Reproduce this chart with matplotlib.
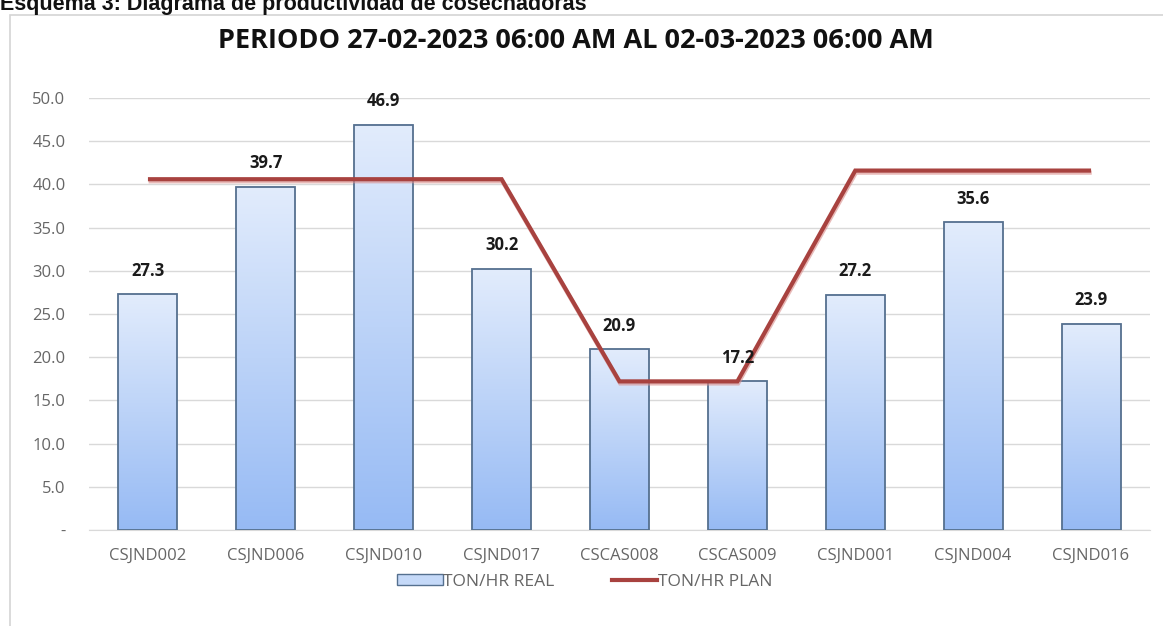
import numpy as np
import matplotlib
matplotlib.use("Agg")
import matplotlib.pyplot as plt
from matplotlib.patches import Rectangle, Patch
from matplotlib.lines import Line2D
import matplotlib.patheffects as pe
from matplotlib.colors import LinearSegmentedColormap

categories = ["CSJND002", "CSJND006", "CSJND010", "CSJND017", "CSCAS008",
              "CSCAS009", "CSJND001", "CSJND004", "CSJND016"]
ton_hr_real = [27.3, 39.7, 46.9, 30.2, 20.9, 17.2, 27.2, 35.6, 23.9]
ton_hr_plan = [40.6, 40.6, 40.6, 40.6, 17.2, 17.2, 41.6, 41.6, 41.6]
y_ticks = [0, 5, 10, 15, 20, 25, 30, 35, 40, 45, 50]
y_tick_labels = ["-" if v == 0 else f"{v:.1f}" for v in y_ticks]

title = "PERIODO 27-02-2023 06:00 AM AL 02-03-2023 06:00 AM"
caption = "Esquema 3: Diagrama de productividad de cosechadoras"

W, H = 1163, 626
fig = plt.figure(figsize=(W / 100, H / 100), dpi=100)
fig.patch.set_facecolor("white")

# chart frame (light border, cut at right/bottom like the screenshot)
fig.patches.append(Rectangle((10 / W, -0.01), 1.2, (H - 15) / H + 0.01,
                             transform=fig.transFigure, fill=False,
                             edgecolor="#d4d4d4", linewidth=1.2))

# caption, partially cut off at the top as in the screenshot
fig.text(0 / W, 1 - 10 / H, caption, ha="left", va="baseline",
         fontsize=15.5, fontweight="bold", family="Liberation Sans", color="#111111")

ax = fig.add_axes([89 / W, 1 - 530 / H, (1150 - 89) / W, (530 - 98) / H])
x = np.arange(len(categories))

bars = ax.bar(x, ton_hr_real, width=0.5, facecolor="none",
              edgecolor="#55708f", linewidth=1.3, zorder=3)

cmap = LinearSegmentedColormap.from_list("bg", ["#96baf4", "#e2ecfc"])
grad = np.linspace(0, 1, 256).reshape(-1, 1)
for b in bars:
    x0, w, h = b.get_x(), b.get_width(), b.get_height()
    ax.imshow(grad, extent=[x0, x0 + w, 0, h], origin="lower", cmap=cmap,
              aspect="auto", zorder=2, interpolation="bicubic")
ax.set_xlim(-0.5, len(categories) - 0.5)
ax.set_ylim(0, 50)

ax.plot(x, ton_hr_plan, color="#a8423f", linewidth=3, zorder=4,
        solid_capstyle="butt", solid_joinstyle="miter",
        path_effects=[pe.SimpleLineShadow(offset=(0.5, -1.5), shadow_color="#d98c8a", alpha=0.6),
                      pe.Normal()])

for xi, v in zip(x, ton_hr_real):
    ax.annotate(f"{v:.1f}", (xi, v), xytext=(0, 17), textcoords="offset points",
                ha="center", va="center", fontsize=12, fontweight="bold",
                family="Open Sans", color="#1a1a1a", zorder=5)

ax.set_yticks(y_ticks)
ax.set_yticklabels(y_tick_labels)
ax.set_xticks(x)
ax.set_xticklabels(categories)
ax.yaxis.grid(True, color="#d9d9d9", linewidth=1)
ax.set_axisbelow(True)
for s in ["top", "right", "left"]:
    ax.spines[s].set_visible(False)
ax.spines["bottom"].set_color("#d9d9d9")
ax.tick_params(axis="both", length=0, labelsize=12, labelcolor="#666666")
ax.tick_params(axis="y", pad=17)
ax.tick_params(axis="x", pad=13)
for lab in ax.get_xticklabels() + ax.get_yticklabels():
    lab.set_family("Open Sans")

fig.text(576 / W, 1 - 41 / H, title, ha="center", va="center", fontsize=19.5,
         fontweight="bold", family="Open Sans", color="#111111")

handles = [Patch(facecolor="#c5d9f8", edgecolor="#55708f", linewidth=1),
           Line2D([], [], color="#a8423f", linewidth=3)]
leg = fig.legend(handles, ["TON/HR REAL", "TON/HR PLAN"], loc="center",
                 bbox_to_anchor=(585 / W, 1 - 582 / H), ncol=2, frameon=False,
                 handlelength=2.6, handletextpad=0.05, columnspacing=3.3,
                 handleheight=0.6,
                 prop={"family": "Open Sans", "size": 12.5})
for t in leg.get_texts():
    t.set_color("#666666")

fig.savefig("out.png", dpi=100)
